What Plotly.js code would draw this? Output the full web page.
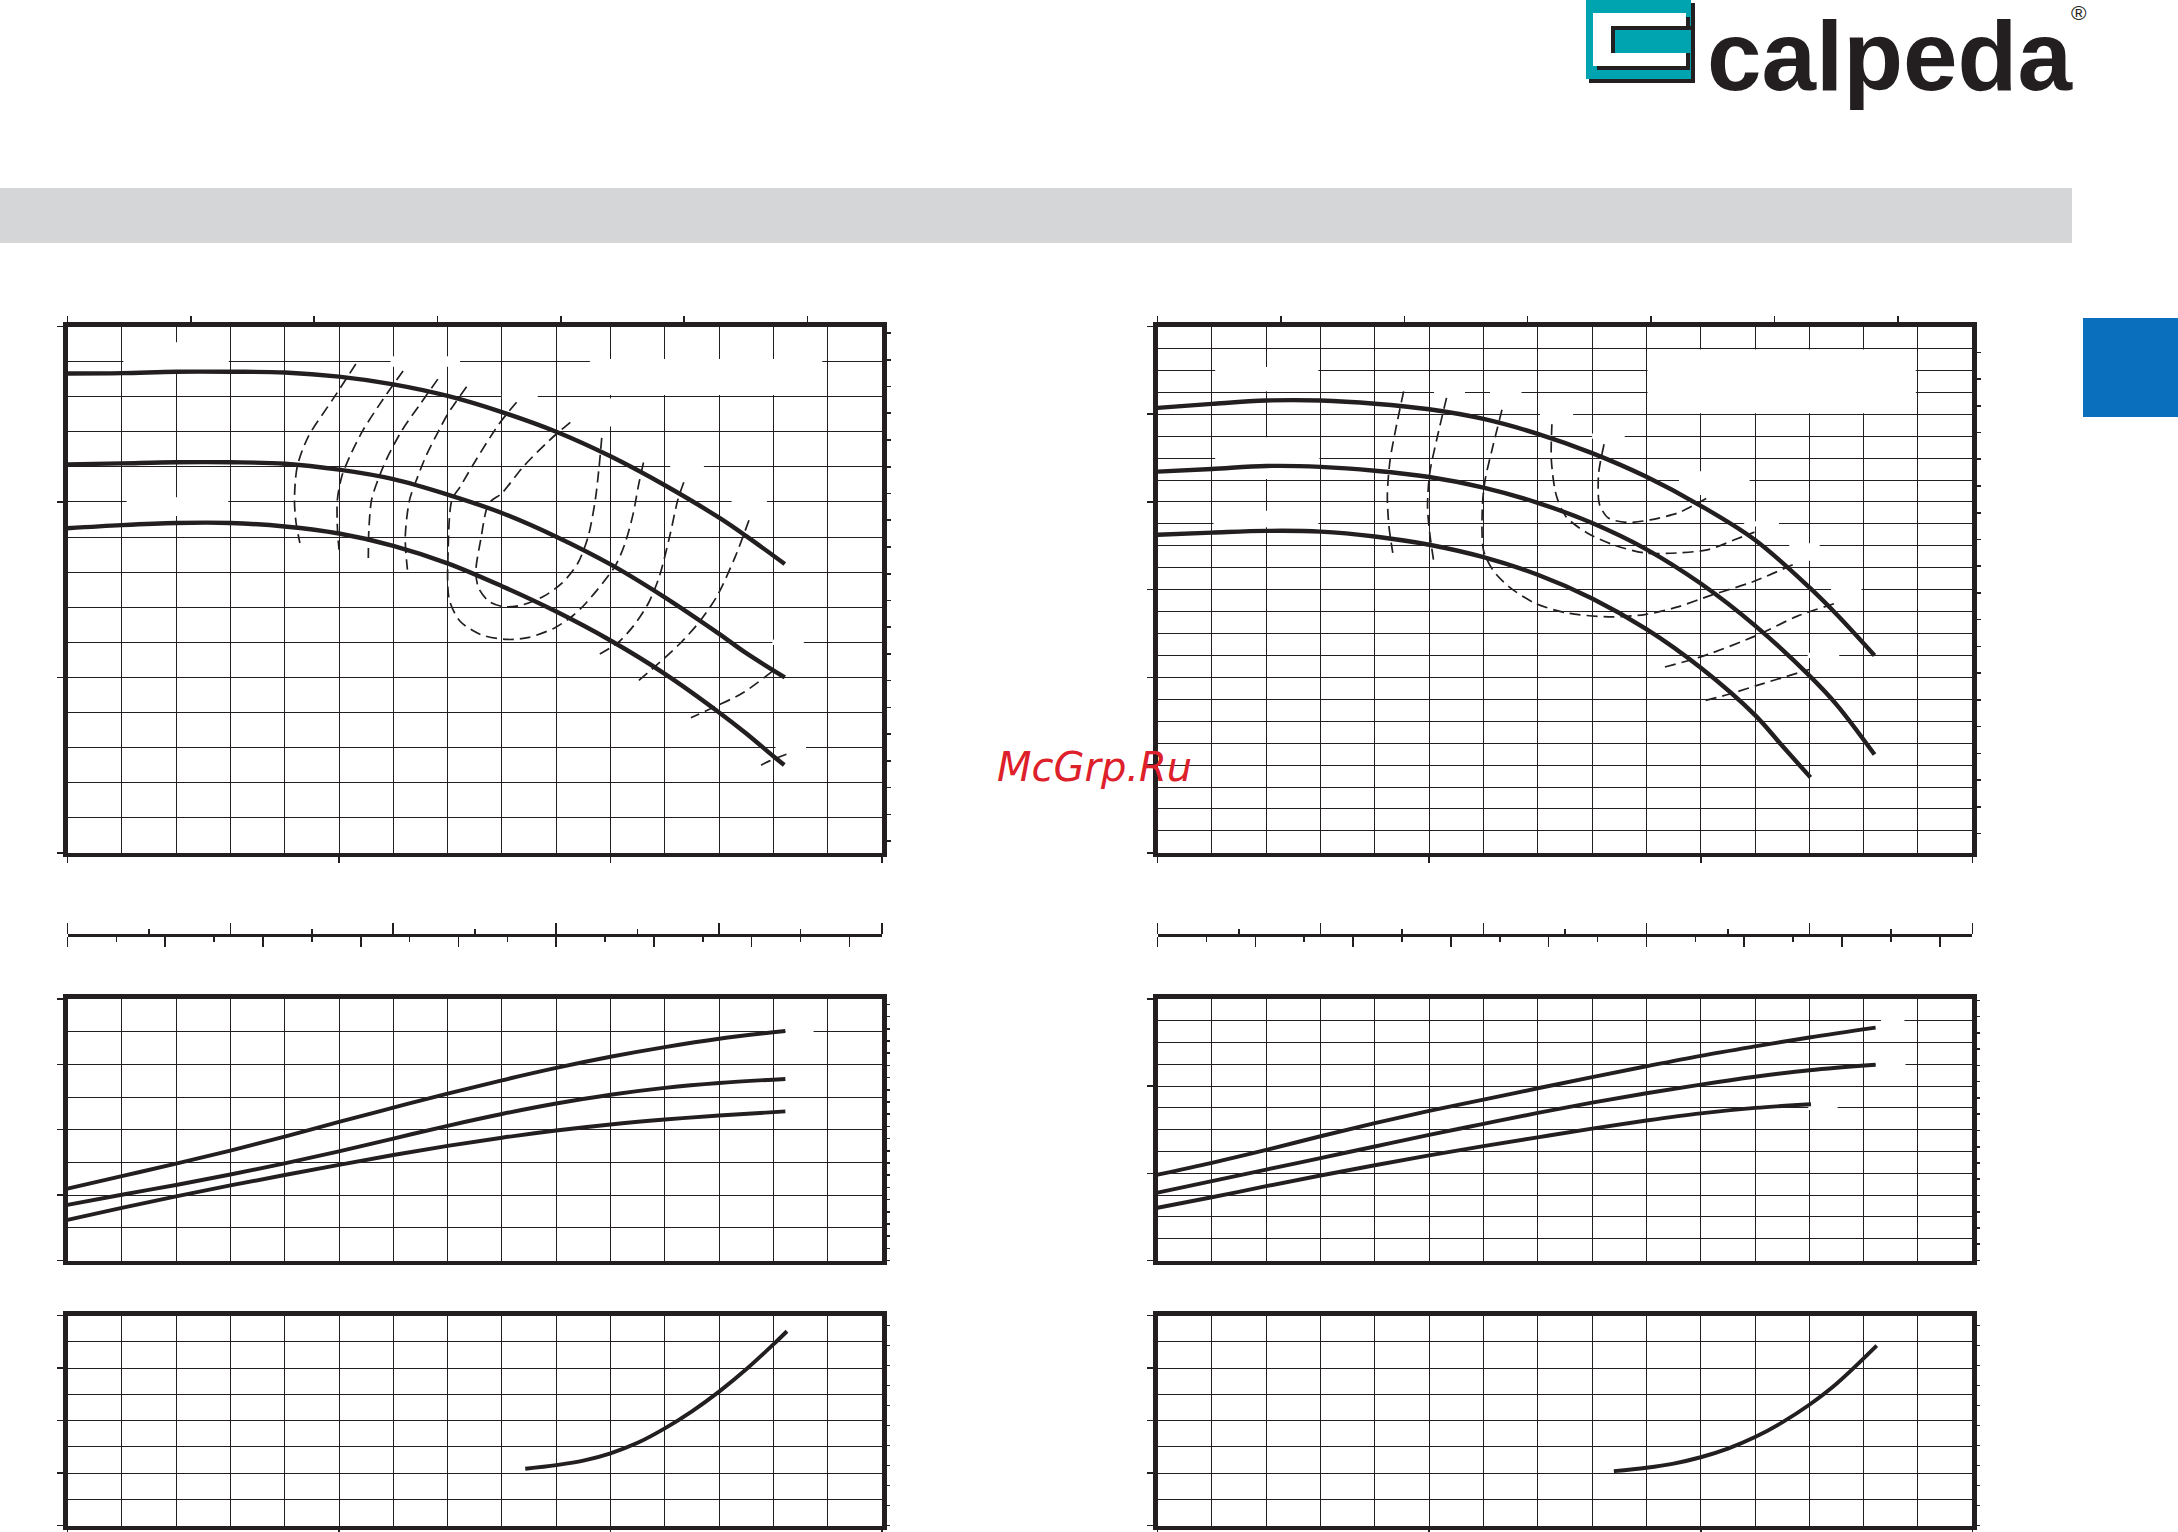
<!DOCTYPE html>
<html><head><meta charset="utf-8">
<script src="https://cdn.plot.ly/plotly-3.0.1.min.js"></script>
<style>html,body{margin:0;padding:0;background:#fff;overflow:hidden}#chart{width:2178px;height:1532px}</style>
</head><body><div id="chart"></div>
<script>
// ================= DATA =================
// Flow axis: m3/h. Head: m. Power: kW. NPSH: m.
// Left pump — head curves (three impellers)
const qHeadL = [0,1,2,3,4,5,6,7,8,9,10,11,12,12.5,13.21];
const hHeadL1 = [37.32,37.34,37.42,37.42,37.38,37.14,36.7,36.04,35.12,34.0,32.6,30.95,29.1,28.05,26.46];
const hHeadL2 = [32.14,32.2,32.26,32.26,32.18,31.84,31.3,30.42,29.37,28.02,26.44,24.56,22.48,21.38,20.0];
const qHeadL3 = [0,1,2,3,4,5,6,7,8,9,10,11,12,12.5,13.0,13.2];
const hHeadL3 = [28.5,28.68,28.8,28.8,28.6,28.2,27.5,26.5,25.2,23.75,22.1,20.2,18.0,16.8,15.5,15.0];
// Left pump — iso-efficiency curves (dashed)
const effL1Q = [5.31,4.91,4.43,4.23,4.18,4.21,4.28];
const effL1H = [37.86,35.96,33.7,32.0,30.12,28.8,27.66];
const effL2Q = [6.18,5.8,5.44,5.2,5.05,4.97,4.97,5.0];
const effL2H = [37.46,35.8,34.08,32.6,31.44,30.12,28.6,27.28];
const effL3Q = [6.82,6.5,6.16,5.9,5.74,5.6,5.55,5.54];
const effL3H = [37.0,35.6,34.08,32.6,31.44,30.12,28.4,26.8];
const effL4Q = [7.35,7.0,6.84,6.6,6.45,6.3,6.22,6.26];
const effL4H = [36.56,35.0,34.08,32.6,31.44,30.12,28.0,26.14];
const effL5Q = [8.27,7.95,7.52,7.23,7.08,7.01,7.03,7.23,7.61,8.1,8.5,8.97,9.3,9.55,10.08,10.27,10.42,10.51,10.63];
const effL5H = [35.68,34.46,32.38,30.86,30.12,27.28,24.44,23.2,22.44,22.16,22.28,22.82,23.5,24.24,26.32,27.66,29.36,30.86,32.56];
const effL6Q = [9.26,8.87,8.39,8.0,7.76,7.61,7.52,7.57,7.76,8.05,8.39,8.77,9.11,9.4,9.59,9.72,9.79,9.84];
const effL6H = [34.54,33.5,32.0,30.5,29.92,27.84,26.04,25.1,24.34,24.02,24.14,24.62,25.38,26.52,28.04,30.12,32.0,33.7];
const effL7Q = [11.35,11.24,11.09,10.9,10.7,10.42,10.13,9.74];
const effL7H = [31.12,30.12,28.04,25.76,24.24,22.92,21.96,21.22];
const effL8Q = [12.55,12.3,11.96,11.62,11.29,10.9,10.51];
const effL8H = [28.96,26.9,24.62,23.1,21.96,20.84,19.8];
const effL9Q = [12.98,12.44,11.96,11.48];
const effL9H = [20.34,19.12,18.38,17.7];
const effL10Q = [13.24,12.93,12.69];
const effL10H = [15.62,15.24,14.86];
// Left pump — power (kW)
const qPowL = [0,1,2,3,4,5,6,7,8,9,10,11,12,13.22];
const pPowL1 = [0.44,0.516,0.592,0.672,0.758,0.848,0.935,1.02,1.102,1.178,1.246,1.305,1.356,1.404];
const pPowL2 = [0.34,0.402,0.462,0.526,0.594,0.668,0.746,0.824,0.896,0.96,1.014,1.056,1.086,1.11];
const pPowL3 = [0.248,0.322,0.392,0.459,0.523,0.585,0.645,0.701,0.751,0.795,0.832,0.862,0.887,0.912];
// Left pump — NPSH (m)
const qNpshL = [8.43,9,9.5,10,10.5,11,11.5,12,12.5,13.0,13.25];
const nNpshL = [2.16,2.3,2.47,2.75,3.15,3.7,4.35,5.1,5.95,6.9,7.4];

// Right pump — head curves
const qHeadR1 = [0,1,2,3,4,5,6,7,8,9,10,11,12,12.5,13.2];
const hHeadR1 = [30.36,30.59,30.78,30.78,30.6,30.28,29.73,28.88,27.78,26.43,24.78,22.83,20.13,18.6,16.25];
const qHeadR2 = [0,1,2,3,4,5,6,7,8,9,10,11,12,12.5,13.2];
const hHeadR2 = [26.73,26.88,27.05,27.0,26.78,26.42,25.82,24.95,23.8,22.3,20.35,17.95,15.1,13.45,10.6];
const qHeadR3 = [0,1,2,3,4,5,6,7,8,9,10,11,11.5,12.02];
const hHeadR3 = [23.13,23.25,23.35,23.31,23.03,22.56,21.85,20.85,19.5,17.75,15.55,12.85,11.1,9.3];
// Right pump — iso-efficiency curves (dashed)
const effR1Q = [4.53,4.38,4.28,4.23,4.26,4.33];
const effR1H = [31.3,29.08,27.38,25.38,23.6,22.09];
const effR2Q = [5.32,5.15,5.01,4.97,5.01,5.08];
const effR2H = [30.93,28.7,26.63,24.75,23.23,21.7];
const effR3Q = [6.34,6.17,6.03,5.98,6.0,6.17,6.46,6.94,7.52,8.3,8.97,9.56,10.2,10.95,11.75];
const effR3H = [30.25,28.13,26.25,24.75,22.25,21.13,20.19,19.24,18.68,18.45,18.58,19.0,19.69,20.44,21.5];
const effR4Q = [7.26,7.25,7.34,7.52,7.91,8.39,8.97,9.56,10.14,10.62,10.99];
const effR4H = [29.43,27.38,25.38,24.16,23.23,22.56,22.09,22.09,22.28,22.84,23.28];
const effR5Q = [8.22,8.12,8.12,8.15,8.3,8.64,9.07,9.56,9.8,10.1];
const effR5H = [28.29,26.63,25.13,24.74,24.08,23.83,23.98,24.35,24.7,25.2];
const effR6Q = [9.34,10.04,11.0,11.78,12.5];
const effR6H = [15.59,16.21,17.35,18.49,19.24];
const effR7Q = [10.09,10.52,11.1,12.0];
const effR7H = [13.69,14.04,14.6,15.45];
// Right pump — power (kW)
const qPowR = [0,1,2,3,4,5,6,7,8,9,10,11,12,13.22];
const pPowR1 = [0.394,0.448,0.507,0.57,0.63,0.686,0.738,0.79,0.841,0.891,0.939,0.982,1.023,1.068];
const pPowR2 = [0.311,0.364,0.417,0.47,0.523,0.576,0.627,0.677,0.724,0.767,0.807,0.843,0.873,0.898];
const qPowR3 = [0,1,2,3,4,5,6,7,8,9,10,11,12.03];
const pPowR3 = [0.242,0.29,0.341,0.39,0.437,0.482,0.525,0.565,0.605,0.642,0.675,0.700,0.717];
// Right pump — NPSH (m)
const qNpshR = [8.4,9,9.5,10,10.5,11,11.5,12,12.5,13.24];
const nNpshR = [2.07,2.2,2.36,2.6,2.93,3.37,3.93,4.6,5.4,6.85];

// Axis ranges (real units)
const qRange = [0, 15];                 // m3/h
const hRangeL = [10, 40], hRangeR = [5, 35];
const pRangeL = [0, 1.6], pRangeR = [0, 1.2];
const nRange = [0, 8];
const brandText = 'calpeda';
const regText = '®';
const watermarkText = 'McGrp.Ru';

// ================= LAYOUT HELPERS =================
const W = 2178, H = 1532, INK = '#231f20';
const px = v => v / W, py = v => 1 - v / H;
const LW = 4.5, GW = 1;
const colL = [66.3, 883.2], colR = [1156.4, 1973.5];
const rowTop = [325.3, 854], rowMid = [997.7, 1261.7], rowBot = [1314.3, 1526.7];
const stripY = 934.7;
const INSET = 1.2;
const dX = c => [px(c[0] + INSET), px(c[1] - INSET)];
const dY = r => [py(r[1] - INSET), py(r[0] + INSET)];
const M3H_TO_GPM = 4.402868, M_TO_FT = 1/0.3048, KW_TO_HP = 1/0.7457;

function gridAxis(domain, anchor, range, dtick, minor, ticks, ticklen) {
  return {domain, anchor, range, dtick, tick0: 0, showgrid: true, gridcolor: INK, gridwidth: GW,
    ticks: ticks ? 'outside' : '', ticklen: ticklen || 6, tickwidth: 1.6, tickcolor: INK,
    showticklabels: false, zeroline: false, showline: true, mirror: true, linewidth: LW, linecolor: INK,
    minor: {dtick: minor, showgrid: true, gridcolor: INK, gridwidth: GW}};
}
function overlayAxis(over, side, anchor, range, dtick, ticklen, minorDtick, minorLen) {
  const a = {overlaying: over, side, anchor, range, dtick, tick0: 0, ticks: 'outside', ticklen,
    tickwidth: 1.6, tickcolor: INK, showgrid: false, showticklabels: false, zeroline: false, showline: false};
  if (minorDtick) a.minor = {dtick: minorDtick, ticks: 'outside', ticklen: minorLen, tickwidth: 1.6, tickcolor: INK, showgrid: false};
  return a;
}

const layout = {width: W, height: H, margin: {l:0, r:0, t:0, b:0}, paper_bgcolor: '#fff', plot_bgcolor: 'rgba(0,0,0,0)',
  showlegend: false, shapes: [], annotations: []};

function buildSide(c, s) {
  const xd = dX(c);
  layout['xaxis' + s.xt] = gridAxis(xd, 'y' + s.yt, qRange, 5, 1, true, 6);
  layout['yaxis' + s.yt] = gridAxis(dY(rowTop), 'x' + s.xt, s.hR, s.hDt, s.hMin, true, 6);
  layout['xaxis' + s.xg] = overlayAxis('x' + s.xt, 'top', 'y' + s.yt, [0, qRange[1]*M3H_TO_GPM], 10, 10, 5, 4);
  layout['yaxis' + s.yf] = overlayAxis('y' + s.yt, 'right', 'x' + s.xt, [s.hR[0]*M_TO_FT, s.hR[1]*M_TO_FT], 5, 8);

  layout['xaxis' + s.xm] = gridAxis(xd, 'y' + s.ym, qRange, 1, 1, false);
  layout['yaxis' + s.ym] = gridAxis(dY(rowMid), 'x' + s.xm, s.pR, 0.4, s.pMin, true, 6);
  layout['yaxis' + s.yhp] = overlayAxis('y' + s.ym, 'right', 'x' + s.xm, [0, s.pR[1]*KW_TO_HP], 0.1, 7);
  const lmin = overlayAxis('x' + s.xm, 'top', 'free', [0, qRange[1]*1000/60], 50, 11, 25, 5);
  lmin.position = py(stripY); lmin.showline = true; lmin.linewidth = 3.4; lmin.linecolor = INK;
  layout['xaxis' + s.xlm] = lmin;
  const ls = overlayAxis('x' + s.xm, 'bottom', 'free', [0, qRange[1]/3.6], 0.5, 10, 0.25, 5);
  ls.position = py(stripY + 1.7);
  layout['xaxis' + s.xls] = ls;

  layout['xaxis' + s.xb] = gridAxis(xd, 'y' + s.yb, qRange, 5, 1, true, 5);
  layout['yaxis' + s.yb] = gridAxis(dY(rowBot), 'x' + s.xb, nRange, 2, 1, true, 6);
  layout['yaxis' + s.yft] = overlayAxis('y' + s.yb, 'right', 'x' + s.xb, [0, nRange[1]*M_TO_FT], 2.5, 7);
}
const SL = {xt:'', yt:'', xg:2, yf:2, xm:3, ym:3, yhp:4, xlm:4, xls:5, xb:6, yb:5, yft:6,
  hR: hRangeL, hDt: 10, hMin: 2, pR: pRangeL, pMin: 0.2};
const SR = {xt:7, yt:7, xg:8, yf:8, xm:9, ym:9, yhp:10, xlm:10, xls:11, xb:12, yb:11, yft:12,
  hR: hRangeR, hDt: 5, hMin: 1.25, pR: pRangeR, pMin: 0.1};
buildSide(colL, SL); buildSide(colR, SR);

const traces = [];
function solid(x, y, xa, ya, w) {
  traces.push({type:'scatter', mode:'lines', x, y, xaxis: 'x' + xa, yaxis: 'y' + ya,
    line: {color: INK, width: w || 4.4, shape: 'spline', smoothing: 1}, hoverinfo: 'skip'});
}
function dashed(x, y, xa, ya) {
  traces.push({type:'scatter', mode:'lines', x, y, xaxis: 'x' + xa, yaxis: 'y' + ya,
    line: {color: INK, width: 1.7, dash: '11px,6px', shape: 'spline', smoothing: 0.8}, hoverinfo: 'skip'});
}
function dummy(xa, ya) { traces.push({type:'scatter', mode:'lines', x:[null], y:[null], xaxis:'x'+xa, yaxis:'y'+ya, hoverinfo:'skip'}); }

// Left pump
[[effL1Q,effL1H],[effL2Q,effL2H],[effL3Q,effL3H],[effL4Q,effL4H],[effL5Q,effL5H],[effL6Q,effL6H],
 [effL7Q,effL7H],[effL8Q,effL8H],[effL9Q,effL9H],[effL10Q,effL10H]].forEach(d => dashed(d[0], d[1], '', ''));
solid(qHeadL, hHeadL1, '', ''); solid(qHeadL, hHeadL2, '', ''); solid(qHeadL3, hHeadL3, '', '');
solid(qPowL, pPowL1, 3, 3, 3.9); solid(qPowL, pPowL2, 3, 3, 3.9); solid(qPowL, pPowL3, 3, 3, 3.9);
solid(qNpshL, nNpshL, 6, 5, 3.9);
dummy(2, 2); dummy(3, 4); dummy(4, 4); dummy(5, 4); dummy(6, 6);
// Right pump
[[effR1Q,effR1H],[effR2Q,effR2H],[effR3Q,effR3H],[effR4Q,effR4H],[effR5Q,effR5H],[effR6Q,effR6H],[effR7Q,effR7H]]
  .forEach(d => dashed(d[0], d[1], 7, 7));
solid(qHeadR1, hHeadR1, 7, 7); solid(qHeadR2, hHeadR2, 7, 7); solid(qHeadR3, hHeadR3, 7, 7);
solid(qPowR, pPowR1, 9, 9, 3.9); solid(qPowR, pPowR2, 9, 9, 3.9); solid(qPowR3, pPowR3, 9, 9, 3.9);
solid(qNpshR, nNpshR, 12, 11, 3.9);
dummy(8, 8); dummy(9, 10); dummy(10, 10); dummy(11, 10); dummy(12, 12);

// White label gaps in the grid (data coords)
function gap(xa, ya, x0, x1, y0, y1) {
  layout.shapes.push({type:'rect', xref:'x'+xa, yref:'y'+ya, x0, x1, y0, y1, fillcolor:'#fff', line:{width:0}, layer:'between'});
}
[[1.03,2.97,37.5,39.1],[1.09,2.96,29.2,30.26],[5.95,7.23,37.7,38.3],[9.62,13.9,36.1,38.15],[9.9,10.1,34.3,35.9],
 [8.0,8.66,35.85,36.15],[11.1,11.72,31.85,32.15],[12.23,12.88,29.85,30.15],[12.98,13.56,21.85,22.15],[13.04,13.6,15.85,16.15]]
 .forEach(g => gap('', '', ...g));
[[1.06,2.96,31.31,32.69],[1.06,2.98,26.31,28.69],[1.03,2.96,23.56,24.5],[9.02,13.96,30.06,33.69],[5.09,5.66,31.1,31.4],
 [6.12,6.70,31.1,31.4],[7.04,7.65,29.85,30.15],[8.0,8.6,28.6,28.9],[9.6,10.9,26.1,26.4],[9.9,10.1,25.4,26.75],
 [10.8,11.44,23.6,23.9],[11.63,12.19,21.65,22.65],[12.4,12.96,19.85,20.15],[11.97,12.55,16.1,16.4]]
 .forEach(g => gap(7, 7, ...g));
gap(3, 3, 13.22, 13.74, 1.38, 1.42);
gap(9, 9, 13.32, 13.75, 1.09, 1.11); gap(9, 9, 13.22, 13.77, 0.89, 0.91); gap(9, 9, 11.98, 12.52, 0.69, 0.71);

// Page decorations (paper coords given in pixels)
function prect(x0, y0, x1, y1, fill, layer) {
  layout.shapes.push({type:'rect', xref:'paper', yref:'paper', x0: px(x0), x1: px(x1), y0: py(y1), y1: py(y0),
    fillcolor: fill, line: {width: 0}, layer: layer || 'above'});
}
const TEAL = '#00a4b0';
prect(0, 188, 2072, 243, '#d5d6d8', 'below');
prect(2083, 318, 2178, 417, '#0a6fbd', 'below');
prect(1589, 3, 1695, 83, INK);
prect(1586, 0, 1691, 79, TEAL);
prect(1597, 17, 1690, 70, INK);
prect(1593, 13, 1686, 66, '#ffffff');
prect(1611, 26, 1691, 53, INK);
prect(1615, 30, 1691, 53, TEAL);

layout.annotations.push({xref:'paper', yref:'paper', x: px(1706), y: 1, xanchor:'left', yanchor:'top', showarrow:false, borderpad: 0,
  text: brandText, font: {family: "'Liberation Sans',Arial,sans-serif", size: 98, color: INK, weight: 700}});
layout.annotations.push({xref:'paper', yref:'paper', x: px(2079), y: 1, xanchor:'center', yanchor:'top', showarrow:false, borderpad: 0,
  text: regText, font: {family: "'Liberation Sans',Arial,sans-serif", size: 21, color: INK}});
layout.annotations.push({xref:'paper', yref:'paper', x: px(1094), y: py(767), xanchor:'center', yanchor:'middle', showarrow:false,
  text: watermarkText, font: {family: "'DejaVu Sans',sans-serif", size: 40, color: '#dd2029', style: 'italic'}});

Plotly.newPlot('chart', traces.map(t => Object.assign({showlegend:false}, t)), layout, {staticPlot: true});
</script></body></html>
